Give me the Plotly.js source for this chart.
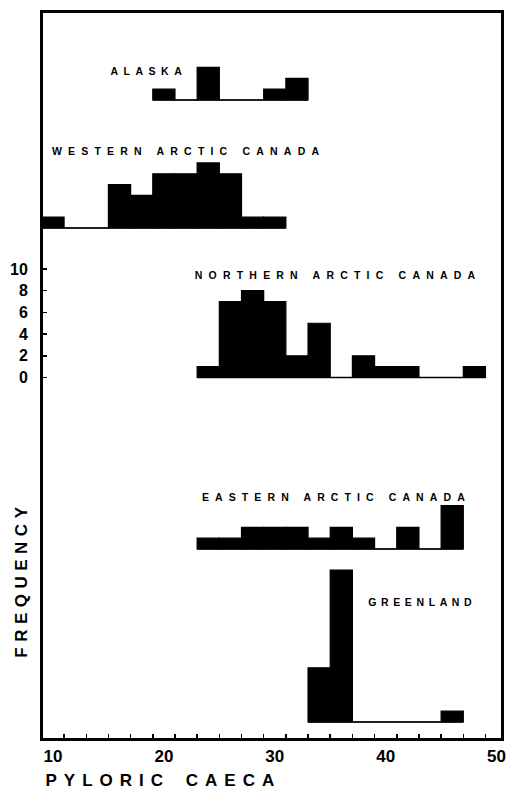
<!DOCTYPE html>
<html>
<head>
<meta charset="utf-8">
<script src="https://cdn.plot.ly/plotly-3.0.1.min.js"></script>
<style>
  html, body { margin: 0; padding: 0; background: #fff; }
  g.annotation[data-index="0"] .annotation-text { letter-spacing: 5.5px; }
  g.annotation[data-index="1"] .annotation-text { letter-spacing: 6.2px; }
  g.annotation[data-index="2"] .annotation-text { letter-spacing: 6.2px; }
  g.annotation[data-index="3"] .annotation-text { letter-spacing: 6.1px; }
  g.annotation[data-index="4"] .annotation-text { letter-spacing: 4.6px; }
  g.annotation[data-index="5"] .annotation-text { letter-spacing: 7px; word-spacing: 4px; }
  g.annotation[data-index="6"] .annotation-text { letter-spacing: 5.5px; }
</style>
</head>
<body>
<div id="chart" style="width:507px;height:794px;"></div>
<script>
// ---- data (bin centres, bins are 2 caeca wide) ----
const alaskaBins   = [20, 22, 24, 26, 28, 30, 32];
const alaskaFreq   = [1, 0, 3, 0, 0, 1, 2];

const westernBins  = [10, 12, 14, 16, 18, 20, 22, 24, 26, 28, 30];
const westernFreq  = [1, 0, 0, 4, 3, 5, 5, 6, 5, 1, 1];

const northernBins = [24, 26, 28, 30, 32, 34, 36, 38, 40, 42, 44, 46, 48];
const northernFreq = [1, 7, 8, 7, 2, 5, 0, 2, 1, 1, 0, 0, 1];

const easternBins  = [24, 26, 28, 30, 32, 34, 36, 38, 40, 42, 44, 46];
const easternFreq  = [1, 1, 2, 2, 2, 1, 2, 1, 0, 2, 0, 4];

const greenlandBins = [34, 36, 38, 40, 42, 44, 46];
const greenlandFreq = [5, 14, 0, 0, 0, 0, 1];

const regionNames = ["ALASKA", "WESTERN ARCTIC CANADA", "NORTHERN ARCTIC CANADA",
                     "EASTERN ARCTIC CANADA", "GREENLAND"];
const xTickVals = [10, 20, 30, 40, 50];
const xTickText = ["10", "20", "30", "40", "50"];
const xMinorTicks = [11, 13, 15, 17, 19, 21, 23, 25, 27, 29, 31, 33, 35, 37, 39, 41, 43, 45, 47, 49];
const yTickVals = [0, 2, 4, 6, 8, 10];
const yTickText = ["0", "2", "4", "6", "8", "10"];
const xTitle = "PYLORIC CAECA";
const yTitle = "FREQUENCY";

// ---- layout geometry (pixels) ----
const FIG_W = 507, FIG_H = 794;
const L = 43, R = 501, T = 13, B = 738;
const W = R - L, H = B - T;
const PX_PER_UNIT = 10.85;
const TOTAL_UNITS = H / PX_PER_UNIT;
const BIN_W = 2;
const FONT = "Liberation Sans, Arial, Helvetica, sans-serif";

function px2paperX(px) { return (px - L) / W; }
function px2paperY(py) { return (B - py) / H; }
function yRangeForBaseline(basePx) {
  const d = (B - basePx) / PX_PER_UNIT;
  return [-d, TOTAL_UNITS - d];
}

// label centre positions in pixels (x includes half the trailing letter-spacing)
const panels = [
  { bins: alaskaBins,    freq: alaskaFreq,    axis: "y2", base: 100,   lab: [149, 71] },
  { bins: westernBins,   freq: westernFreq,   axis: "y3", base: 228,   lab: [189, 151] },
  { bins: northernBins,  freq: northernFreq,  axis: "y",  base: 377.5, lab: [338, 275] },
  { bins: easternBins,   freq: easternFreq,   axis: "y4", base: 549,   lab: [336.5, 497] },
  { bins: greenlandBins, freq: greenlandFreq, axis: "y5", base: 722,   lab: [422.5, 602] }
];

const traces = [];
panels.forEach(p => {
  traces.push({
    type: "bar", x: p.bins, y: p.freq, width: BIN_W, yaxis: p.axis,
    marker: { color: "#000", line: { color: "#000", width: 1.2 } },
    hoverinfo: "skip", showlegend: false
  });
  traces.push({
    type: "scatter", mode: "lines", yaxis: p.axis,
    x: [p.bins[0] - BIN_W / 2, p.bins[p.bins.length - 1] + BIN_W / 2], y: [0, 0],
    line: { color: "#000", width: 1.6 }, hoverinfo: "skip", showlegend: false
  });
});

const hiddenAxis = (basePx) => ({
  overlaying: "y", range: yRangeForBaseline(basePx), visible: false,
  showgrid: false, zeroline: false, fixedrange: true
});

const annotations = panels.map((p, i) => ({
  text: regionNames[i], xref: "paper", yref: "paper",
  x: px2paperX(p.lab[0]), y: px2paperY(p.lab[1]),
  xanchor: "center", yanchor: "middle", showarrow: false, borderpad: 0,
  font: { family: FONT, size: 10.5, color: "#000", weight: "bold" }
}));
annotations.push({
  text: xTitle, xref: "paper", yref: "paper",
  x: px2paperX(163), y: px2paperY(780), xanchor: "center", yanchor: "middle",
  showarrow: false, borderpad: 0,
  font: { family: FONT, size: 17, color: "#000", weight: "bold" }
});
annotations.push({
  text: yTitle, xref: "paper", yref: "paper", textangle: -90,
  x: px2paperX(21), y: px2paperY(580), xanchor: "center", yanchor: "middle",
  showarrow: false, borderpad: 0,
  font: { family: FONT, size: 17, color: "#000", weight: "bold" }
});

const layout = {
  width: FIG_W, height: FIG_H,
  margin: { l: L, r: FIG_W - R, t: T, b: FIG_H - B, pad: 0 },
  paper_bgcolor: "#fff", plot_bgcolor: "#fff",
  barmode: "overlay", bargap: 0,
  showlegend: false,
  xaxis: {
    range: [9.1, 50.4], showgrid: false, zeroline: false,
    showline: true, linewidth: 3, linecolor: "#000", mirror: true,
    tickmode: "array", tickvals: xTickVals, ticktext: xTickText, ticks: "",
    ticklabelstandoff: 1,
    tickfont: { family: FONT, size: 17, color: "#000", weight: "bold" },
    minor: { tickmode: "array", tickvals: xMinorTicks, ticks: "inside", ticklen: 4,
             tickwidth: 1.5, tickcolor: "#000", showgrid: false },
    fixedrange: true
  },
  yaxis: {
    range: yRangeForBaseline(377.5), showgrid: false, zeroline: false,
    showline: true, linewidth: 3, linecolor: "#000", mirror: true,
    tickmode: "array", tickvals: yTickVals, ticktext: yTickText,
    ticks: "inside", ticklen: 4, tickwidth: 1.5, tickcolor: "#000",
    ticklabelstandoff: 9,
    tickfont: { family: FONT, size: 16, color: "#000", weight: "bold" },
    fixedrange: true
  },
  yaxis2: hiddenAxis(100),
  yaxis3: hiddenAxis(228),
  yaxis4: hiddenAxis(549),
  yaxis5: hiddenAxis(722),
  annotations: annotations
};

Plotly.newPlot("chart", traces, layout, { staticPlot: true, displayModeBar: false });
</script>
</body>
</html>
